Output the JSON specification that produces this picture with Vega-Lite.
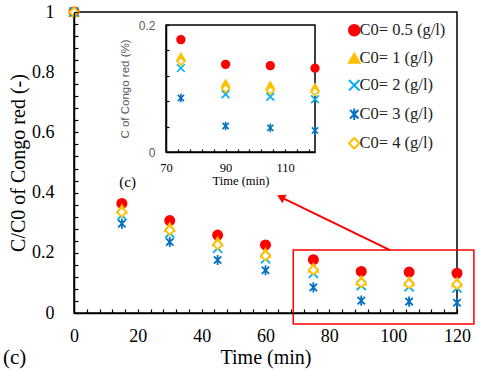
{
  "$schema": "https://vega.github.io/schema/vega-lite/v6.json",
  "width": 383,
  "height": 301,
  "autosize": {"type": "none"},
  "padding": {"left": 74, "top": 12, "right": 23, "bottom": 66},
  "background": "white",
  "config": {"view": {"stroke": "black", "strokeWidth": 1.5}},
  "datasets": {
    "main": [
      {"t": 0, "v": 1, "s": "C0= 0.5 (g/l)"},
      {"t": 0, "v": 1, "s": "C0= 1 (g/l)"},
      {"t": 0, "v": 1, "s": "C0= 2 (g/l)"},
      {"t": 0, "v": 1, "s": "C0= 3 (g/l)"},
      {"t": 0, "v": 1, "s": "C0= 4 (g/l)"},
      {"t": 15, "v": 0.364, "s": "C0= 0.5 (g/l)"},
      {"t": 15, "v": 0.345, "s": "C0= 1 (g/l)"},
      {"t": 15, "v": 0.325, "s": "C0= 2 (g/l)"},
      {"t": 15, "v": 0.297, "s": "C0= 3 (g/l)"},
      {"t": 15, "v": 0.335, "s": "C0= 4 (g/l)"},
      {"t": 30, "v": 0.307, "s": "C0= 0.5 (g/l)"},
      {"t": 30, "v": 0.285, "s": "C0= 1 (g/l)"},
      {"t": 30, "v": 0.265, "s": "C0= 2 (g/l)"},
      {"t": 30, "v": 0.236, "s": "C0= 3 (g/l)"},
      {"t": 30, "v": 0.275, "s": "C0= 4 (g/l)"},
      {"t": 45, "v": 0.259, "s": "C0= 0.5 (g/l)"},
      {"t": 45, "v": 0.237, "s": "C0= 1 (g/l)"},
      {"t": 45, "v": 0.215, "s": "C0= 2 (g/l)"},
      {"t": 45, "v": 0.176, "s": "C0= 3 (g/l)"},
      {"t": 45, "v": 0.227, "s": "C0= 4 (g/l)"},
      {"t": 60, "v": 0.226, "s": "C0= 0.5 (g/l)"},
      {"t": 60, "v": 0.2, "s": "C0= 1 (g/l)"},
      {"t": 60, "v": 0.18, "s": "C0= 2 (g/l)"},
      {"t": 60, "v": 0.142, "s": "C0= 3 (g/l)"},
      {"t": 60, "v": 0.19, "s": "C0= 4 (g/l)"},
      {"t": 75, "v": 0.177, "s": "C0= 0.5 (g/l)"},
      {"t": 75, "v": 0.15, "s": "C0= 1 (g/l)"},
      {"t": 75, "v": 0.132, "s": "C0= 2 (g/l)"},
      {"t": 75, "v": 0.085, "s": "C0= 3 (g/l)"},
      {"t": 75, "v": 0.143, "s": "C0= 4 (g/l)"},
      {"t": 90, "v": 0.138, "s": "C0= 0.5 (g/l)"},
      {"t": 90, "v": 0.108, "s": "C0= 1 (g/l)"},
      {"t": 90, "v": 0.091, "s": "C0= 2 (g/l)"},
      {"t": 90, "v": 0.041, "s": "C0= 3 (g/l)"},
      {"t": 90, "v": 0.1, "s": "C0= 4 (g/l)"},
      {"t": 105, "v": 0.136, "s": "C0= 0.5 (g/l)"},
      {"t": 105, "v": 0.105, "s": "C0= 1 (g/l)"},
      {"t": 105, "v": 0.087, "s": "C0= 2 (g/l)"},
      {"t": 105, "v": 0.038, "s": "C0= 3 (g/l)"},
      {"t": 105, "v": 0.097, "s": "C0= 4 (g/l)"},
      {"t": 120, "v": 0.132, "s": "C0= 0.5 (g/l)"},
      {"t": 120, "v": 0.102, "s": "C0= 1 (g/l)"},
      {"t": 120, "v": 0.083, "s": "C0= 2 (g/l)"},
      {"t": 120, "v": 0.034, "s": "C0= 3 (g/l)"},
      {"t": 120, "v": 0.095, "s": "C0= 4 (g/l)"}
    ]
  },
  "layer": [
    {
      "layer": [
        {
          "data": {"name": "main"},
          "mark": {"type": "point", "opacity": 1, "strokeWidth": 1.8, "size": 85},
          "encoding": {
            "x": {
              "field": "t", "type": "quantitative",
              "scale": {"domain": [0, 120], "nice": false, "zero": false},
              "axis": {
                "title": "Time (min)", "titleFont": "Liberation Serif", "titleFontSize": 20, "titleFontWeight": "normal", "titleColor": "black", "titlePadding": 2,
                "values": [0,4,8,12,16,20,24,28,32,36,40,44,48,52,56,60,64,68,72,76,80,84,88,92,96,100,104,108,112,116,120],
                "tickCount": 500,
                "labelExpr": "datum.value % 20 == 0 ? format(datum.value, '~g') : ''",
                "labelFont": "Liberation Serif", "labelFontSize": 18, "labelColor": "black", "labelPadding": 18,
                "tickSize": -4, "tickColor": "black", "tickWidth": 1.2, "domainColor": "black", "domainWidth": 1.5, "grid": false, "labelFlush": false, "labelOverlap": false, "zindex": 1
              }
            },
            "y": {
              "field": "v", "type": "quantitative",
              "scale": {"domain": [0, 1], "nice": false, "zero": false},
              "axis": {
                "title": "C/C0 of Congo red (-)", "titleFont": "Liberation Serif", "titleFontSize": 20, "titleFontWeight": "normal", "titleColor": "black", "titlePadding": 3,
                "values": [0,0.04,0.08,0.12,0.16,0.2,0.24,0.28,0.32,0.36,0.4,0.44,0.48,0.52,0.56,0.6,0.64,0.68,0.72,0.76,0.8,0.84,0.88,0.92,0.96,1],
                "tickCount": 500,
                "labelExpr": "abs(datum.value*5 - round(datum.value*5)) < 0.001 ? format(datum.value, '~g') : ''",
                "labelFont": "Liberation Serif", "labelFontSize": 18, "labelColor": "black", "labelPadding": 24,
                "tickSize": -4, "tickColor": "black", "tickWidth": 1.2, "domainColor": "black", "domainWidth": 1.5, "grid": false, "labelFlush": false, "labelOverlap": false, "zindex": 1
              }
            },
            "shape": {
              "field": "s", "type": "nominal",
              "scale": {"domain": ["C0= 0.5 (g/l)", "C0= 1 (g/l)", "C0= 2 (g/l)", "C0= 3 (g/l)", "C0= 4 (g/l)"],
                        "range": ["circle", "triangle-up", "M-1,-1L1,1M-1,1L1,-1", "M-0.8,-0.8L0.8,0.8M-0.8,0.8L0.8,-0.8M0,-1.1L0,1.1", "diamond"]},
              "legend": {"title": null, "orient": "none", "legendX": 272, "legendY": 10, "padding": 0, "labelFont": "Liberation Serif", "labelFontSize": 16.5, "labelColor": "#222222", "symbolSize": 110, "symbolStrokeWidth": 2, "rowPadding": 9, "labelOffset": -3}
            },
            "fill": {
              "field": "s", "type": "nominal",
              "scale": {"domain": ["C0= 0.5 (g/l)", "C0= 1 (g/l)", "C0= 2 (g/l)", "C0= 3 (g/l)", "C0= 4 (g/l)"],
                        "range": ["#FF0000", "#FFC000", "transparent", "transparent", "white"]},
              "legend": {"title": null, "orient": "none", "legendX": 272, "legendY": 10, "padding": 0, "labelFont": "Liberation Serif", "labelFontSize": 16.5, "labelColor": "#222222", "symbolSize": 110, "symbolStrokeWidth": 2, "rowPadding": 9, "labelOffset": -3}
            },
            "stroke": {
              "field": "s", "type": "nominal",
              "scale": {"domain": ["C0= 0.5 (g/l)", "C0= 1 (g/l)", "C0= 2 (g/l)", "C0= 3 (g/l)", "C0= 4 (g/l)"],
                        "range": ["#FF0000", "#FFC000", "#00B0F0", "#0070C0", "#FFC000"]},
              "legend": {"title": null, "orient": "none", "legendX": 272, "legendY": 10, "padding": 0, "labelFont": "Liberation Serif", "labelFontSize": 16.5, "labelColor": "#222222", "symbolSize": 110, "symbolStrokeWidth": 2, "rowPadding": 9, "labelOffset": -3}
            }
          }
        },
        {
          "data": {"values": [{}]},
          "mark": {"type": "rect", "filled": false, "stroke": "#FF0000", "strokeWidth": 1.5},
          "encoding": {
            "x": {"datum": 68.7, "type": "quantitative"},
            "x2": {"datum": 125.3},
            "y": {"datum": 0.209, "type": "quantitative"},
            "y2": {"datum": -0.0365}
          }
        },
        {
          "data": {"values": [{}]},
          "mark": {"type": "rule", "stroke": "#FF0000", "strokeWidth": 2},
          "encoding": {
            "x": {"datum": 99, "type": "quantitative"},
            "x2": {"datum": 64.8},
            "y": {"datum": 0.209, "type": "quantitative"},
            "y2": {"datum": 0.385}
          }
        },
        {
          "data": {"values": [{}]},
          "mark": {"type": "point", "shape": "triangle-up", "filled": true, "fill": "#FF0000", "opacity": 1, "size": 90, "angle": 296},
          "encoding": {
            "x": {"datum": 64.8, "type": "quantitative"},
            "y": {"datum": 0.385, "type": "quantitative"}
          }
        },
        {
          "data": {"values": [{}]},
          "mark": {"type": "text", "text": "(c)", "font": "Liberation Serif", "fontSize": 15, "color": "black", "align": "center", "baseline": "middle"},
          "encoding": {
            "x": {"datum": 16.8, "type": "quantitative"},
            "y": {"datum": 0.436, "type": "quantitative"}
          }
        },
        {
          "data": {"values": [{}]},
          "mark": {"type": "text", "text": "(c)", "font": "Liberation Serif", "fontSize": 21, "color": "black", "align": "center", "baseline": "middle"},
          "encoding": {
            "x": {"datum": -18.6, "type": "quantitative"},
            "y": {"datum": -0.15, "type": "quantitative"}
          }
        }
      ]
    },
    {
      "layer": [
        {
          "data": {"values": [{}]},
          "mark": {"type": "rect", "fill": "white", "stroke": "black", "strokeWidth": 1.5},
          "encoding": {
            "x": {"datum": 70, "type": "quantitative"},
            "x2": {"datum": 120},
            "y": {"datum": 0, "type": "quantitative"},
            "y2": {"datum": 0.2}
          }
        },
        {
          "data": {"name": "main"},
          "transform": [{"filter": "datum.t >= 75"}],
          "mark": {"type": "point", "opacity": 1, "strokeWidth": 1.6, "size": 60},
          "encoding": {
            "x": {
              "field": "t", "type": "quantitative",
              "scale": {"domain": [70, 120], "range": [92, 241], "nice": false, "zero": false},
              "axis": {
                "orient": "bottom", "offset": -161, "zindex": 1,
                "title": "Time (min)", "titleFont": "Liberation Serif", "titleFontSize": 12.5, "titleFontWeight": "normal", "titleColor": "black", "titlePadding": 1,
                "values": [70,74,78,82,86,90,94,98,102,106,110,114,118],
                "tickCount": 500,
                "labelExpr": "(datum.value - 70) % 20 == 0 ? format(datum.value, '~g') : ''",
                "labelFont": "Liberation Serif", "labelFontSize": 12.5, "labelColor": "black", "labelPadding": 12,
                "tickSize": -3, "tickColor": "black", "tickWidth": 1.2, "domainColor": "black", "domainWidth": 1.5, "grid": false, "labelFlush": false, "labelOverlap": false
              }
            },
            "y": {
              "field": "v", "type": "quantitative",
              "scale": {"domain": [0, 0.2], "range": [140, 13], "nice": false, "zero": false},
              "axis": {
                "orient": "left", "offset": -92, "zindex": 1,
                "title": "C of Congo red (%)", "titleFont": "Liberation Sans", "titleFontSize": 11.5, "titleFontWeight": "normal", "titleColor": "#595959", "titlePadding": 8,
                "values": [0, 0.04, 0.08, 0.12, 0.16, 0.2],
                "tickCount": 500,
                "labelExpr": "datum.value < 0.01 || datum.value > 0.19 ? format(datum.value, '~g') : ''",
                "labelFont": "Liberation Sans", "labelFontSize": 12, "labelColor": "#595959", "labelPadding": 14,
                "tickSize": -3, "tickColor": "black", "tickWidth": 1.2, "domainColor": "black", "domainWidth": 1.5, "grid": false, "labelFlush": false, "labelOverlap": false
              }
            },
            "shape": {"field": "s", "type": "nominal"},
            "fill": {"field": "s", "type": "nominal"},
            "stroke": {"field": "s", "type": "nominal"}
          }
        }
      ]
    }
  ],
  "resolve": {"scale": {"x": "independent", "y": "independent"}, "axis": {"x": "independent", "y": "independent"}}
}
